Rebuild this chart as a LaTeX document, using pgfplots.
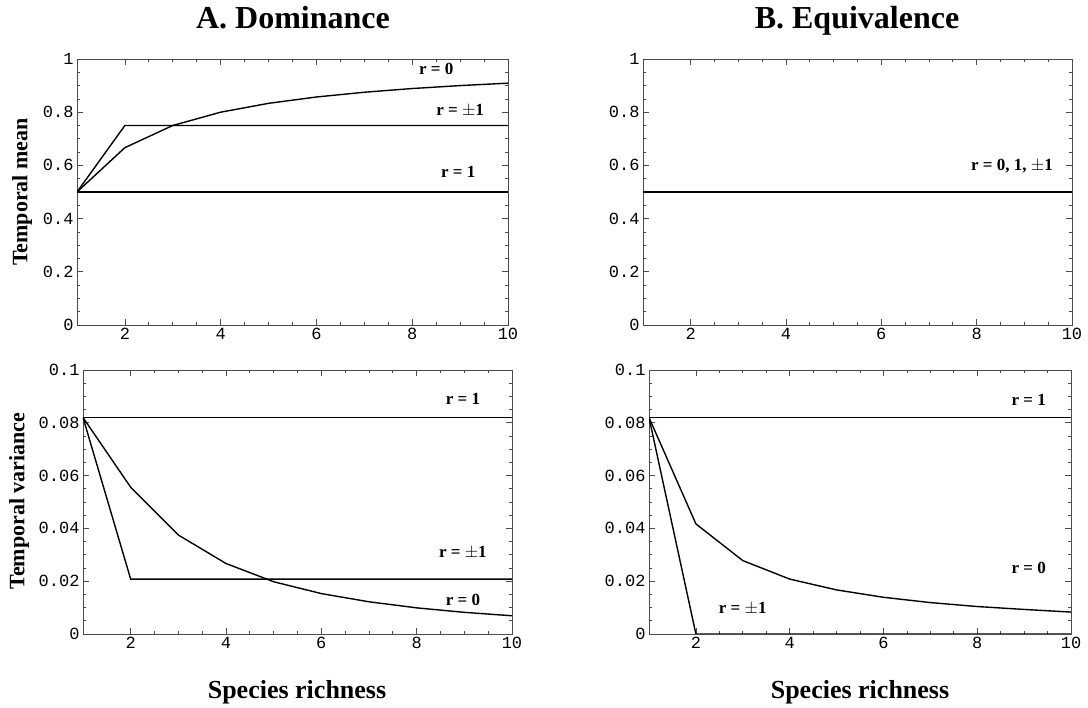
\documentclass[border=0pt]{standalone}
\usepackage{fontspec}
\setmainfont{Liberation Serif}
\setmonofont{Liberation Mono}
\usepackage{pgfplots}
\pgfplotsset{compat=1.18}
\tikzset{rlab/.style={font=\fontsize{17}{17}\selectfont\bfseries, anchor=center, inner sep=0pt}}
\pgfplotsset{
  panel/.style={
    scale only axis,
    xmin=1, xmax=10,
    xtick={2,4,6,8,10}, xticklabels={2,4,6,8,10},
    tick align=inside, tick pos=both,
    xticklabel pos=left, yticklabel pos=left,
    major tick length=6pt, minor tick length=3pt,
    minor x tick num=3, minor y tick num=3,
    axis line style={line width=0.9pt, black!70},
    every tick/.style={black!70, line width=0.7pt},
    /pgf/number format/assume math mode=true,
    ticklabel style={font=\fontsize{17}{17}\selectfont\ttfamily},
    every axis plot post/.append style={black, line width=1.4pt, mark=none},
  },
  meanpanel/.style={panel, ymin=0, ymax=1, ytick={0,0.2,0.4,0.6,0.8,1},
    yticklabels={0,0.2,0.4,0.6,0.8,1}, width=431pt, height=266pt},
  varpanel/.style={panel, ymin=0, ymax=0.1, ytick={0,0.02,0.04,0.06,0.08,0.1},
    yticklabels={0,0.02,0.04,0.06,0.08,0.1}, width=429pt, height=264pt},
}
\begin{document}
\begin{tikzpicture}
\useasboundingbox (0,0) rectangle (1088pt,708pt);

% A. Dominance, temporal mean
\begin{axis}[meanpanel, at={(77pt,383pt)}, anchor=south west]
\addplot coordinates {(1,0.5) (10,0.5)};                       % r = 1
\addplot coordinates {(1,0.5) (2,0.75) (10,0.75)};             % r = +-1
\addplot coordinates {(1,0.5) (2,0.6667) (3,0.75) (4,0.8) (5,0.8333)
  (6,0.8571) (7,0.875) (8,0.8889) (9,0.9) (10,0.9091)};        % r = 0
\node[rlab] at (axis cs:8.50,0.962) {r = 0};
\node[rlab] at (axis cs:9.00,0.805) {r = $\pm$1};
\node[rlab] at (axis cs:8.96,0.575) {r = 1};
\end{axis}

% B. Equivalence, temporal mean
\begin{axis}[meanpanel, width=429pt, at={(643pt,383pt)}, anchor=south west]
\addplot coordinates {(1,0.5) (10,0.5)};
\node[rlab] at (axis cs:8.74,0.598) {r = 0, 1, $\pm$1};
\end{axis}

% A. Dominance, temporal variance
\begin{axis}[varpanel, at={(83pt,74pt)}, anchor=south west]
\addplot coordinates {(1,0.082) (10,0.082)};                   % r = 1
\addplot coordinates {(1,0.082) (2,0.0208) (10,0.0208)};       % r = +-1
\addplot coordinates {(1,0.082) (2,0.0556) (3,0.0375) (4,0.0267) (5,0.0198)
  (6,0.0153) (7,0.0122) (8,0.0099) (9,0.0082) (10,0.0069)};    % r = 0
\node[rlab] at (axis cs:8.97,0.0890) {r = 1};
\node[rlab] at (axis cs:8.97,0.0307) {r = $\pm$1};
\node[rlab] at (axis cs:8.97,0.0129) {r = 0};
\end{axis}

% B. Equivalence, temporal variance
\begin{axis}[varpanel, width=422pt, at={(649pt,74pt)}, anchor=south west]
\addplot coordinates {(1,0.082) (10,0.082)};                   % r = 1
\addplot coordinates {(1,0.082) (2,0) (10,0)};                 % r = +-1
\addplot coordinates {(1,0.082) (2,0.0417) (3,0.0278) (4,0.0208) (5,0.0167)
  (6,0.0139) (7,0.0119) (8,0.0104) (9,0.0093) (10,0.0083)};    % r = 0
\node[rlab] at (axis cs:9.10,0.0886) {r = 1};
\node[rlab] at (axis cs:9.10,0.0250) {r = 0};
\node[rlab] at (axis cs:3.00,0.0095) {r = $\pm$1};
\end{axis}

% titles and labels
\node[font=\fontsize{32}{32}\selectfont\bfseries, anchor=base] at (293pt,679pt) {A. Dominance};
\node[font=\fontsize{32}{32}\selectfont\bfseries, anchor=base] at (857pt,679pt) {B. Equivalence};
\node[font=\fontsize{22}{22}\selectfont\bfseries, rotate=90] at (22pt,516pt) {Temporal mean};
\node[font=\fontsize{22}{22}\selectfont\bfseries, rotate=90] at (19pt,207pt) {Temporal variance};
\node[font=\fontsize{26}{26}\selectfont\bfseries] at (297pt,16pt) {Species richness};
\node[font=\fontsize{26}{26}\selectfont\bfseries] at (860pt,16pt) {Species richness};
\end{tikzpicture}
\end{document}
